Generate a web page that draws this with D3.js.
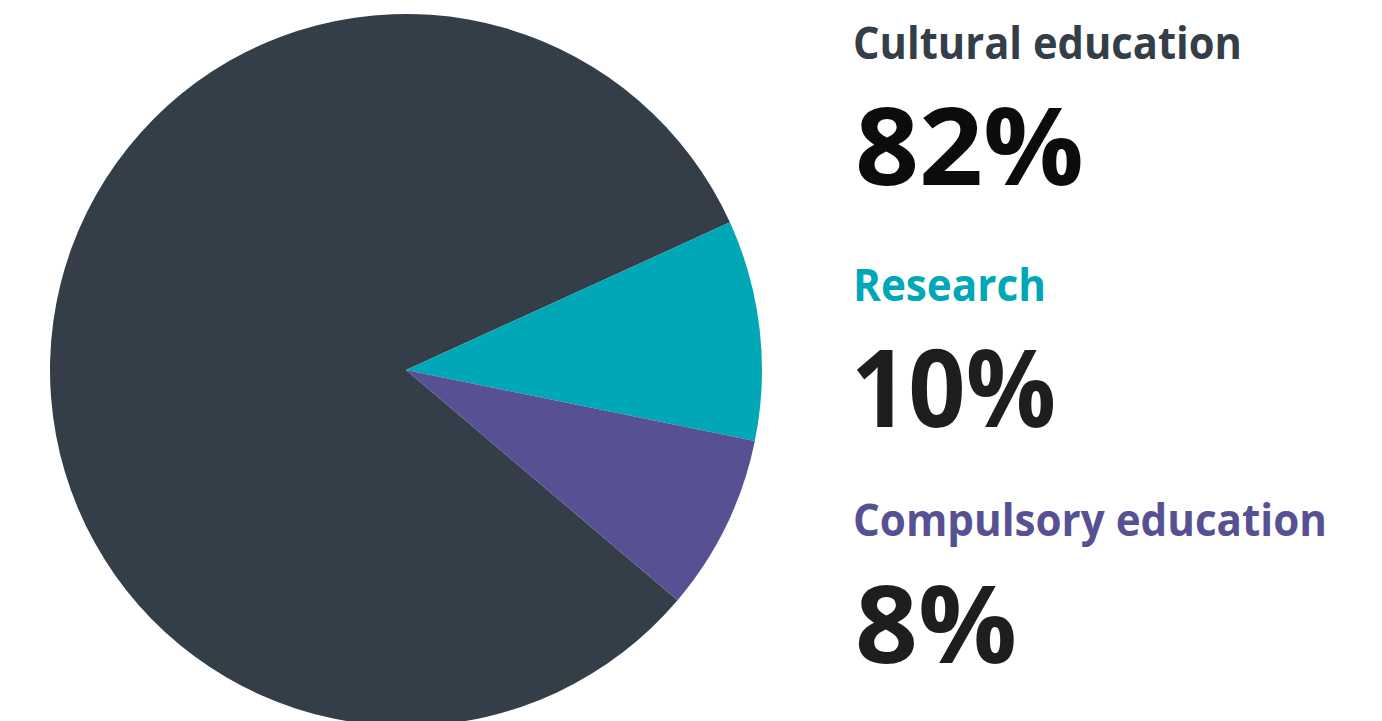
<!DOCTYPE html>
<html>
<head>
<meta charset="utf-8">
<script src="https://cdn.jsdelivr.net/npm/d3@7"></script>
<style>
  html, body { margin: 0; padding: 0; background: #ffffff; }
  svg { display: block; }
</style>
</head>
<body>
<svg id="chart" width="1382" height="721"></svg>
<script>
// Budget share by area
const categories = ["Cultural education", "Research", "Compulsory education"];
const shares = [82, 10, 8];
const colors = ["#333e48", "#00a7b7", "#575193"];

const svg = d3.select("#chart");

const cx = 406, cy = 370, radius = 356;

const pie = d3.pie()
  .sort(null)
  .value(d => d.value)
  .startAngle(130.3 * Math.PI / 180)
  .endAngle(130.3 * Math.PI / 180 + 2 * Math.PI);

const arc = d3.arc().innerRadius(0).outerRadius(radius);

const data = categories.map((c, i) => ({ name: c, value: shares[i], color: colors[i] }));

svg.append("g")
  .attr("transform", `translate(${cx},${cy})`)
  .selectAll("path")
  .data(pie(data))
  .join("path")
  .attr("d", arc)
  .attr("fill", d => d.data.color);

// Legend column: category name above its percentage
const legendX = 853;
const nameBaselines = [59, 301, 536];
const valueBaselines = [185, 427, 663];
const nameWidths = [389, 193, 474];
const valueWidths = [229, 205, 162];

const legend = svg.append("g").attr("font-family", "'Open Sans', 'DejaVu Sans', sans-serif");

data.forEach((d, i) => {
  legend.append("text")
    .attr("x", legendX)
    .attr("y", nameBaselines[i])
    .attr("font-size", 44)
    .attr("font-weight", 700)
    .attr("fill", d.color)
    .attr("textLength", nameWidths[i])
    .attr("lengthAdjust", "spacingAndGlyphs")
    .text(d.name);

  legend.append("text")
    .attr("x", legendX + (i === 1 ? -2 : 2))
    .attr("y", valueBaselines[i])
    .attr("font-size", 108)
    .attr("font-weight", 700)
    .attr("fill", i === 0 ? "#0c0c0c" : "#1e1e1e")
    .attr("textLength", valueWidths[i])
    .attr("lengthAdjust", "spacingAndGlyphs")
    .text(d3.format("d")(d.value) + "%");
});
</script>
</body>
</html>
